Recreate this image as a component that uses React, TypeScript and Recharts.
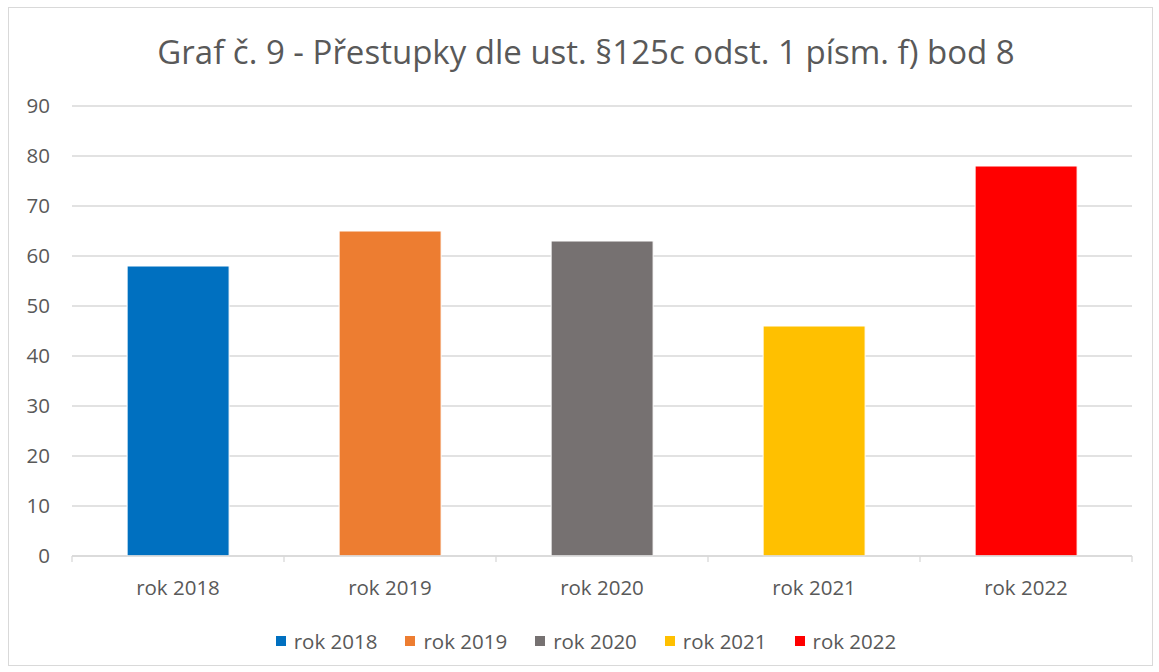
import { BarChart, Bar, XAxis, YAxis, CartesianGrid, Cell } from "recharts";

const categories = ["rok 2018", "rok 2019", "rok 2020", "rok 2021", "rok 2022"];
const values = [58, 65, 63, 46, 78];
const colors = ["#0070C0", "#ED7D31", "#767171", "#FFC000", "#FF0000"];
const yTicks = [0, 10, 20, 30, 40, 50, 60, 70, 80, 90];

const data = categories.map((name, i) => ({ name, value: values[i], fill: colors[i] }));

const FONT = "'Open Sans', sans-serif";
const TEXT = "#595959";

function CategoryTick(props: any) {
  const { x, y, payload, width, visibleTicksCount } = props;
  const half = width / visibleTicksCount / 2;
  return (
    <g>
      <line x1={x - half} y1={y} x2={x - half} y2={y + 6} stroke="#d9d9d9" strokeWidth={1.3} />
      {payload.index === visibleTicksCount - 1 && (
        <line x1={x + half} y1={y} x2={x + half} y2={y + 6} stroke="#d9d9d9" strokeWidth={1.3} />
      )}
      <text x={x} y={y + 39} textAnchor="middle" fill={TEXT} fontSize={20.5} fontFamily={FONT}>
        {payload.value}
      </text>
    </g>
  );
}

export default function App() {
  return (
    <div style={{ position: "absolute", left: 0, top: 0, width: 1159, height: 672, background: "#fff", fontFamily: FONT }}>
      <div style={{ position: "absolute", left: 8, top: 7, width: 1143, height: 657, border: "1px solid #d9d9d9" }} />
      <div style={{ position: "absolute", left: 0, top: 30, width: 1172, textAlign: "center", fontSize: 33, color: TEXT, lineHeight: "44px" }}>
        Graf č. 9 - Přestupky dle ust. §125c odst. 1 písm. f) bod 8
      </div>
      <div style={{ position: "absolute", left: 0, top: 0 }}>
        <BarChart width={1159} height={672} data={data} margin={{ top: 106, right: 27, left: 0, bottom: 76 }} barCategoryGap="26%">
          <CartesianGrid vertical={false} stroke="#d9d9d9" strokeWidth={1.3} />
          <XAxis
            dataKey="name"
            height={40}
            tickSize={0}
            tickMargin={0}
            axisLine={{ stroke: "#d9d9d9", strokeWidth: 1.3 }}
            tickLine={false}
            tick={<CategoryTick />}
            interval={0}
          />
          <YAxis
            width={72}
            domain={[0, 90]}
            ticks={yTicks}
            axisLine={false}
            tickLine={false}
            tickSize={0}
            tickMargin={22}
            tick={{ fill: TEXT, fontSize: 20.5, fontFamily: FONT }}
          />
          <Bar dataKey="value" isAnimationActive={false} stroke="#fff" strokeWidth={1}>
            {data.map((d) => (
              <Cell key={d.name} fill={d.fill} />
            ))}
          </Bar>
        </BarChart>
      </div>
      <div style={{ position: "absolute", left: 0, top: 626, width: 1172, display: "flex", justifyContent: "center", fontSize: 20.5, color: TEXT, lineHeight: "30px" }}>
        {data.map((d) => (
          <div key={d.name} style={{ display: "flex", alignItems: "center", margin: "0 14px" }}>
            <span style={{ width: 10, height: 10, background: d.fill, display: "inline-block", marginRight: 8 }} />
            <span>{d.name}</span>
          </div>
        ))}
      </div>
    </div>
  );
}
